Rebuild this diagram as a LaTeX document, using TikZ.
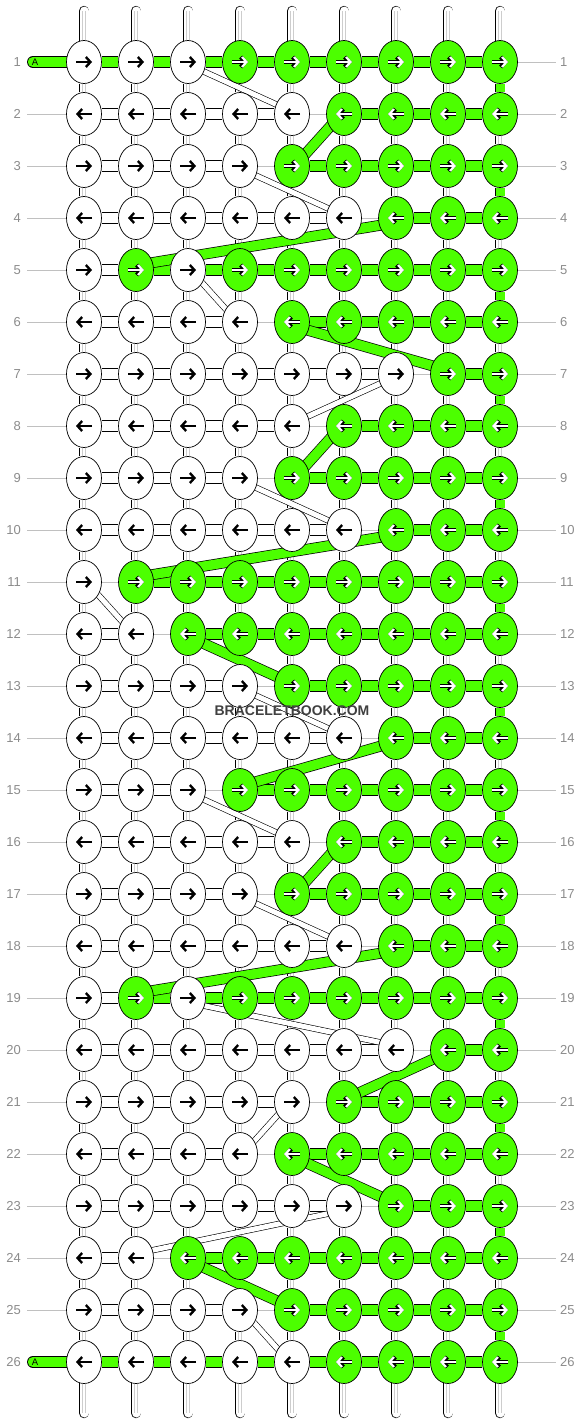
\documentclass[tikz,border=0pt]{standalone}
\usepackage{fontspec}
\setmainfont{Liberation Sans}
\usetikzlibrary{shapes.geometric,arrows.meta,calc}
\definecolor{kgreen}{RGB}{76,255,0}
\definecolor{labgray}{RGB}{140,140,140}
\definecolor{linegray}{RGB}{192,192,192}
\definecolor{coregray}{RGB}{205,205,205}
\definecolor{markgray}{RGB}{64,64,64}
\pgfdeclarelayer{pipes}
\pgfdeclarelayer{conns}
\pgfdeclarelayer{diags}
\pgfsetlayers{pipes,conns,diags,main}
\tikzset{
	knot/.style={ellipse, draw=black, line width=0.7pt, minimum width=35pt, minimum height=43pt, inner sep=0pt},
	kar/.style={line width=2.4pt, -{Straight Barb[length=4.5pt,width=10pt]}},
	vpipe/.style={draw=black, line width=0.7pt, double=white, double distance=9pt},
	vcore/.style={draw=coregray, line width=0.45pt, double=white, double distance=2.6pt},
	wconn/.style={draw=black, line width=0.7pt, double=white, double distance=10.5pt},
	gconn/.style={draw=black, line width=0.7pt, double=kgreen, double distance=10.5pt},
	wdiag/.style={draw=black, line width=0.6pt, double=white, double distance=5pt},
	gdiag/.style={draw=black, line width=0.7pt, double=kgreen, double distance=9.5pt},
	gapline/.style={draw=linegray, line width=0.6pt},
	rowlab/.style={text=labgray, font=\fontsize{13}{15}\selectfont, inner sep=0pt},
	atag/.style={font=\fontsize{9.5}{10}\selectfont, inner sep=0pt},
}

\begin{document}
\begin{tikzpicture}[x=1pt,y=-1pt]
	\useasboundingbox (0,0) rectangle (584,1424);
	\begin{pgfonlayer}{pipes}
		\fill[white] (0,0) rectangle (584,1424);
	\end{pgfonlayer}

	% rows: number / first green knot / kind (0 plain, 1 all green, 2 second knot green)
	\foreach \row/\fg/\rk in {1/4/1,2/6/0,3/5/0,4/7/0,5/4/2,6/5/0,7/8/0,8/6/0,9/5/0,10/7/0,11/2/0,12/3/0,13/5/0,
		14/7/0,15/4/0,16/6/0,17/5/0,18/7/0,19/4/2,20/8/0,21/6/0,22/5/0,23/7/0,24/3/0,25/5/0,26/6/1} {
		\pgfmathsetmacro\ky{62+52*(\row-1)}
		\pgfmathsetmacro\axa{ifthenelse(mod(\row,2)==1,-8,8)}
		\pgfmathsetmacro\axb{ifthenelse(mod(\row,2)==1,8,-8)}
		\foreach \col in {1,...,9} {
			\pgfmathtruncatemacro\isg{(\col>=\fg) || (\rk==2 && \col==2)}
			\ifnum\isg=1
				\node[knot, fill=kgreen] (k-\col-\row) at ({84+52*(\col-1)},\ky) {};
				\draw[kar, line width=4.2pt] ($(k-\col-\row)+(\axa,0)$) -- ($(k-\col-\row)+(\axb,0)$);
				\draw[kar, white, line width=2.2pt] ($(k-\col-\row)+(\axa,0)$) -- ($(k-\col-\row)+(\axb,0)$);
			\else
				\node[knot, fill=white] (k-\col-\row) at ({84+52*(\col-1)},\ky) {};
				\draw[kar] ($(k-\col-\row)+(\axa,0)$) -- ($(k-\col-\row)+(\axb,0)$);
			\fi
		}
		\foreach \col in {1,...,8} {
			\pgfmathtruncatemacro\cn{\col+1}
			\pgfmathtruncatemacro\ct{ifthenelse(\rk==1,2,ifthenelse(\rk==2,ifthenelse(\col==1,1,2),ifthenelse(\cn<\fg,1,ifthenelse(\cn==\fg,0,2))))}
			\begin{pgfonlayer}{conns}
				\ifcase\ct
					\draw[gapline] (k-\col-\row) -- (k-\cn-\row);
				\or
					\draw[wconn] (k-\col-\row) -- (k-\cn-\row);
				\or
					\draw[gconn] (k-\col-\row) -- (k-\cn-\row);
				\fi
			\end{pgfonlayer}
		}
		\node[rowlab, anchor=east] (ll-\row) at (21,\ky) {\row};
		\node[rowlab, anchor=west] (lr-\row) at (560,\ky) {\row};
		\begin{pgfonlayer}{conns}
			\draw[gapline] (k-9-\row) -- ($(lr-\row.west)+(-4,0)$);
			\ifnum\rk=1
				\coordinate (a-\row) at (33,\ky);
				\draw[gconn, line cap=round] (a-\row) -- (k-1-\row);
			\else
				\draw[gapline] ($(ll-\row.east)+(6,0)$) -- (k-1-\row);
			\fi
		\end{pgfonlayer}
		\ifnum\rk=1
			\node[atag] (atag-\row) at (35,\ky) {A};
		\fi
	}

	% strings running down
	\begin{pgfonlayer}{pipes}
		\foreach \col in {1,...,9} {
			\coordinate (top-\col) at ({84+52*(\col-1)},11);
			\coordinate (bot-\col) at ({84+52*(\col-1)},1413);
			\draw[vpipe, line cap=round] (top-\col) -- (k-\col-1);
			\draw[vcore] (top-\col) -- (k-\col-1);
			\draw[vpipe, line cap=round] (k-\col-26) -- (bot-\col);
			\draw[vcore] (k-\col-26) -- (bot-\col);
			\foreach \row in {1,...,25} {
				\pgfmathtruncatemacro\rn{\row+1}
				\pgfmathtruncatemacro\vg{(\col==9) && (mod(\row,2)==1)}
				\ifnum\vg=1
					\draw[gconn, double distance=9pt] (k-\col-\row) -- (k-\col-\rn);
				\else
					\draw[vpipe] (k-\col-\row) -- (k-\col-\rn);
					\draw[vcore] (k-\col-\row) -- (k-\col-\rn);
				\fi
			}
		}
	\end{pgfonlayer}

	% crossing strands
	\begin{pgfonlayer}{diags}
		\foreach \ca/\ra/\cb/\rb in {3/1/5/2,4/3/6/4,3/5/4/6,7/7/5/8,4/9/6/10,1/11/2/12,4/13/6/14,
			3/15/5/16,4/17/6/18,3/19/7/20,5/21/4/22,6/23/2/24,4/25/5/26} {
			\pgfmathsetmacro\sa{ifthenelse(\cb>\ca,8,-8)}
			\pgfmathsetmacro\sb{ifthenelse(\cb>\ca,-8,8)}
			\draw[wdiag] ($(k-\ca-\ra)+(\sa,6)$) -- ($(k-\cb-\rb)+(\sb,-6)$);
		}
		\foreach \ca/\ra/\cb/\rb in {6/2/5/3,7/4/2/5,5/6/8/7,6/8/5/9,7/10/2/11,3/12/5/13,7/14/4/15,
			6/16/5/17,7/18/2/19,8/20/6/21,5/22/7/23,3/24/5/25} {
			\pgfmathsetmacro\sa{ifthenelse(\cb>\ca,8,-8)}
			\pgfmathsetmacro\sb{ifthenelse(\cb>\ca,-8,8)}
			\draw[gdiag] ($(k-\ca-\ra)+(\sa,6)$) -- ($(k-\cb-\rb)+(\sb,-6)$);
		}
	\end{pgfonlayer}

	\node[font=\bfseries\fontsize{14}{16}\selectfont, text=markgray] (mark) at (292,711) {BRACELETBOOK.COM};
\end{tikzpicture}
\end{document}
